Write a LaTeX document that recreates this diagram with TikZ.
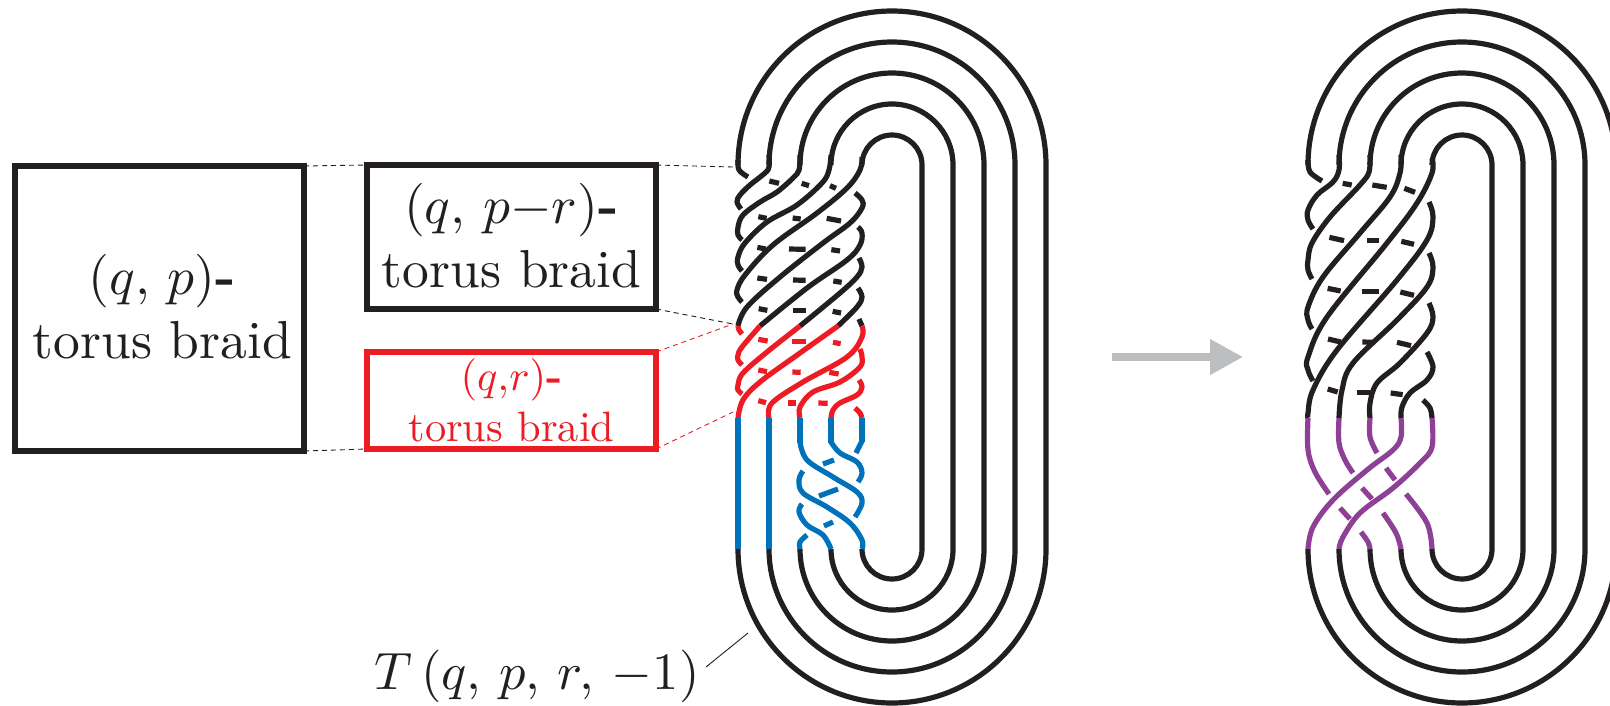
\documentclass[tikz,border=0pt]{standalone}
\usepackage{graphicx}
\usetikzlibrary{arrows.meta}
\definecolor{kblack}{HTML}{231F20}
\definecolor{kred}{HTML}{ED1C24}
\definecolor{kblue}{HTML}{0072BC}
\definecolor{kpurple}{HTML}{8E3F96}
\definecolor{kgray}{HTML}{BCBEC0}
\newcommand{\strandline}[2]{\draw[strand,#1] plot[smooth,tension=.6] coordinates {#2};}
\newcommand{\bigtext}[3]{\raisebox{-#1}[0pt][0pt]{\scalebox{#2}{\begin{tabular}{@{}c@{}}#3\end{tabular}}}}
\tikzset{
  strand/.style={line width=5.2pt,color=kblack,line cap=butt},
  braidbox/.style={draw=kblack,line width=5.2pt,rectangle,inner sep=0pt,outer sep=0pt,text=kblack},
  thindash/.style={line width=.9pt,dash pattern=on 5pt off 4pt,color=kblack},
  thindashred/.style={line width=.9pt,dash pattern=on 5pt off 4pt,color=kred},
}
\begin{document}
\begin{tikzpicture}[x=1pt,y=-1pt]
\useasboundingbox (0,0) rectangle (1610,705);
% boxes
\node[braidbox,minimum width=289pt,minimum height=285pt] (box1) at (159.5,308.5)
  {\hspace*{6pt}\bigtext{18.4pt}{5.35}{$(q,\,p)$\textbf{-}\\torus braid}};
\node[braidbox,minimum width=289pt,minimum height=144pt] (box2) at (511.5,237)
  {\bigtext{19.4pt}{5.35}{$(q,\,p{-}r)$\textbf{-}\\torus braid}};
\node[braidbox,draw=kred,text=kred,minimum width=289pt,minimum height=97pt] (box3) at (511.5,400.5)
  {\bigtext{15.6pt}{4.25}{$(q{,}r)$\textbf{-}\\torus braid}};
\node[anchor=base,inner sep=0pt,text=kblack] (tlabel) at (537,689) {\scalebox{5.25}{$T\,(q,\,p,\,r,\,{-}1)$}};
% leaders
\coordinate (k1) at (733,167);
\coordinate (k2) at (733,324);
\coordinate (k3) at (733,412);
\coordinate (k4) at (748,633);
\coordinate (k5) at (706,667);
\draw[thindash] (box1.north east) -- (box2.north west);
\draw[thindash] (box1.south east) -- (box3.south west);
\draw[thindash] (box2.north east) -- (k1);
\draw[thindash] (box2.south east) -- (k2);
\draw[thindashred] (box3.north east) -- (k2);
\draw[thindashred] (box3.south east) -- (k3);
\draw[kblack,line width=.9pt] (k5) -- (k4);
% big arrow
\coordinate (a1) at (1112,357);
\coordinate (a2) at (1243,357);
\draw[kgray,line width=7.5pt,-{Triangle[length=33pt,width=34pt]}] (a1) -- (a2);
% loops of both knots
\foreach \dx in {0,570}{
  \foreach \r in {30,61,92,123,154}{
    \draw[strand] (892+\dx-\r,165) arc[start angle=180,end angle=0,radius=\r pt]
      -- (892+\dx+\r,549) arc[start angle=0,end angle=-180,radius=\r pt];
  }
}
% ---- left knot: black
\strandline{}{(738,160)(739,170)(748,177)}
\strandline{}{(769,155)(769,167)(765,173)(750,185)(740,195)(737,202)(741,209)}
\strandline{}{(800,155)(799,170)(793,178)(777,192)(760,202)(743,215)(738,227)(738,235)(742,240)}
\strandline{}{(831,155)(829,170)(822,183)(797,205)(767,222)(745,243)(738,257)(738,265)(742,271)}
\strandline{}{(862,157)(860,170)(847,188)(817,213)(773,245)(745,275)(737,290)(738,297)(742,302)}
\strandline{}{(855,193)(862,200)(862,208)(850,223)(823,243)(780,277)(747,307)(738,326)}
\strandline{}{(858,227)(862,233)(860,245)(847,260)(807,288)(760,326)}
\strandline{}{(859,258)(862,267)(857,277)(840,293)(800,326)}
\strandline{}{(858,288)(862,297)(857,307)(838,326)}
\strandline{}{(859,319)(862,326)}
% red
\strandline{kred}{(738,326)(739,330)(742,334)}
\strandline{kred}{(760,326)(742,347)(738,355)(738,360)(742,365)}
\strandline{kred}{(800,326)(767,352)(743,373)(738,385)(738,390)(742,394)}
\strandline{kred}{(838,326)(800,353)(760,382)(743,400)(738,418)}
\strandline{kred}{(862,326)(862,337)(847,357)(803,382)(772,403)(769,418)}
\strandline{kred}{(860,349)(862,357)(860,367)(840,382)(813,392)(800,407)(800,418)}
\strandline{kred}{(859,380)(862,387)(857,395)(840,403)(833,410)(831,418)}
\strandline{kred}{(855,408)(860,413)(862,418)}
% blue
\draw[strand,kblue] (738,418) -- (738,549);
\draw[strand,kblue] (769,418) -- (769,549);
\draw[strand,kblue] (800,418) -- (800,443);
\draw[strand,kblue] (831,418) -- (831,443);
\draw[strand,kblue] (862,418) -- (862,442);
\strandline{kblue}{(800,442)(807,460)(833,477)(857,492)(862,503)(855,517)}
\strandline{kblue}{(831,442)(840,453)(857,462)(862,473)(858,482)}
\strandline{kblue}{(862,441)(856,453)}
\strandline{kblue}{(803,471)(799,480)(803,493)(827,507)(850,523)(862,540)(862,549)}
\strandline{kblue}{(802,504)(799,512)(807,525)(823,535)(831,549)}
\strandline{kblue}{(807,535)(800,542)(800,549)}
% dashes: left
\foreach \a/\b/\c/\d in {208/183/237/190,305/190/327/197,390/197/408/205,
 175/290/200/295,278/294/302/297,380/295/423/303,
 172/382/197/387,267/387/317/388,394/389/420/393,
 172/474/201/478,279/480/317/481,400/483/425/487,
 176/566/202/571,280/572/317/572,398/574/423/579}{
  \draw[strand] ({700+\a/3},{120+\b/3}) -- ({700+\c/3},{120+\d/3});
}
\foreach \a/\b/\c/\d in {175/88/203/93,277/94/319/94,399/97/422/101,
 175/180/201/185,277/186/302/187,388/187/416/192,
 175/272/198/278,263/279/287/279,355/279/383/280}{
  \draw[strand,kred] ({700+\a/3},{310+\b/3}) -- ({700+\c/3},{310+\d/3});
}
\draw[strand,kblue] (823,464) -- (834,460);
\draw[strand,kblue] (819,496) -- (838,489);
\draw[strand,kblue] (824,526) -- (833,522);
% ---- right knot: black
\strandline{}{(1308,160)(1310,172)(1322,181)}
\strandline{}{(1339,155)(1339,170)(1333,182)(1317,195)(1308,210)(1308,220)(1313,229)}
\strandline{}{(1370,155)(1369,172)(1360,185)(1330,217)(1312,243)(1308,260)(1308,270)(1312,279)}
\strandline{}{(1401,155)(1400,173)(1390,197)(1360,233)(1323,277)(1308,307)(1308,320)(1312,329)}
\strandline{}{(1432,158)(1432,173)(1417,203)(1387,243)(1327,317)(1308,357)(1308,370)(1313,381)}
\strandline{}{(1429,202)(1433,217)(1427,240)(1397,280)(1337,350)(1313,390)(1308,413)(1308,418)}
\strandline{}{(1429,253)(1433,267)(1427,287)(1397,320)(1353,363)(1342,390)(1339,418)}
\strandline{}{(1429,303)(1433,317)(1427,333)(1400,363)(1377,383)(1370,403)(1370,418)}
\strandline{}{(1427,352)(1433,367)(1427,380)(1410,393)(1402,407)(1401,418)}
\strandline{}{(1423,400)(1430,408)(1432,418)}
% purple
\strandline{kpurple}{(1308,418)(1308,450)(1315,472)(1329,494)}
\strandline{kpurple}{(1339,418)(1339,443)(1345,460)(1353,473)}
\strandline{kpurple}{(1370,418)(1370,437)(1377,453)}
\strandline{kpurple}{(1401,418)(1401,437)(1393,450)(1367,470)(1333,500)(1313,527)(1308,549)}
\strandline{kpurple}{(1432,418)(1432,447)(1420,463)(1393,488)(1360,513)(1343,537)(1339,549)}
\strandline{kpurple}{(1406,494)(1427,523)(1432,549)}
\strandline{kpurple}{(1383,513)(1396,533)(1401,549)}
\strandline{kpurple}{(1361,532)(1368,542)(1370,549)}
\draw[strand,kpurple] (1386,468) -- (1395,480);
\draw[strand,kpurple] (1362,488) -- (1372,499);
\draw[strand,kpurple] (1340,508) -- (1350,519);
% dashes: right
\foreach \a/\b/\c/\d in {218/190/245/195,307/195/350/202,403/205/435/217,
 178/352/222/362,292/362/328/362,394/364/432/373,
 173/505/212/513,275/515/328/515,391/516/432/526,
 174/657/212/666,277/666/314/667,381/667/423/677,
 173/807/203/816,262/818/300/818,362/819/398/824}{
  \draw[strand] ({1270+\a/3},{120+\b/3}) -- ({1270+\c/3},{120+\d/3});
}
\end{tikzpicture}
\end{document}
